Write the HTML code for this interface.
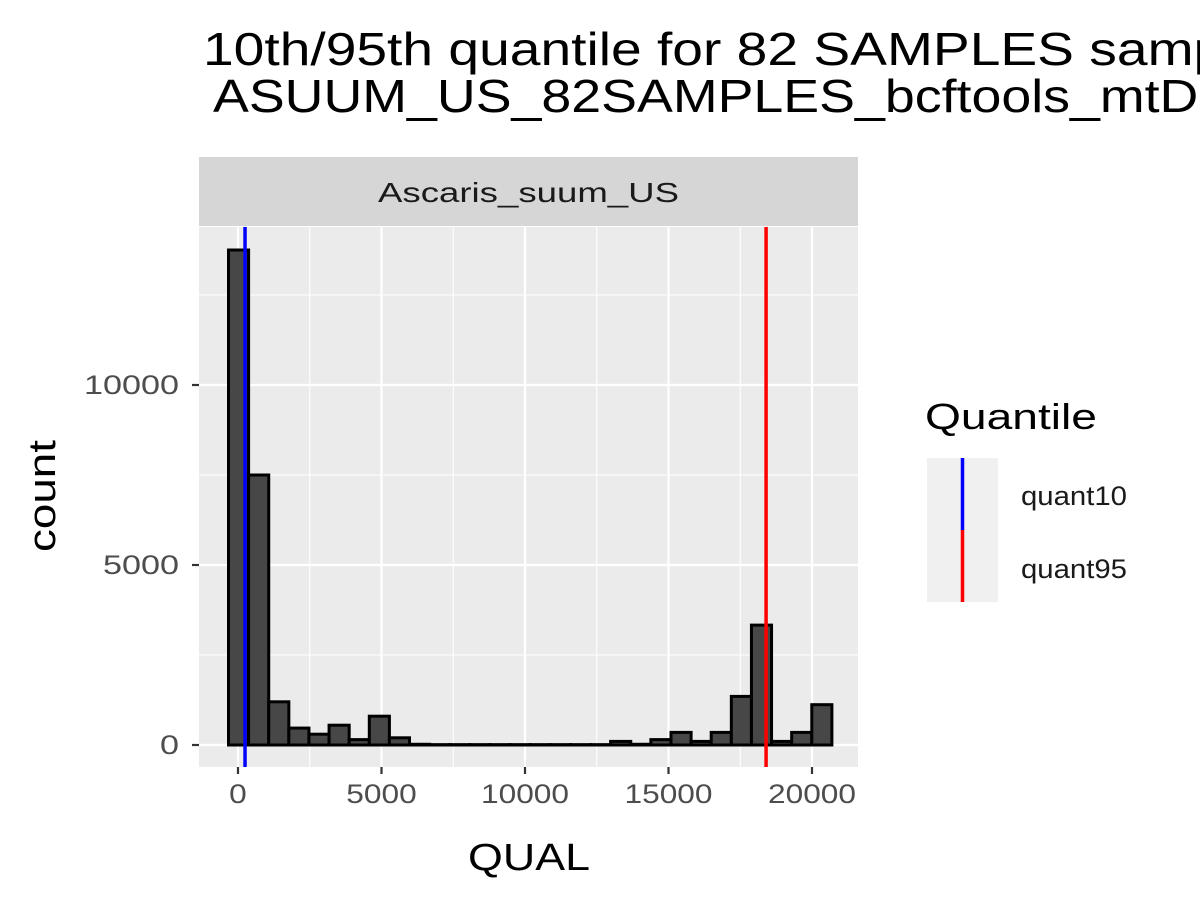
<!DOCTYPE html>
<html><head><meta charset="utf-8"><style>
html,body{margin:0;padding:0;background:#fff;overflow:hidden}
svg{font-family:"Liberation Sans",Arial,sans-serif;display:block}
</style></head><body>
<svg id="chart" width="1200" height="900" viewBox="0 0 1200 900">
<text x="203" y="65" font-size="46" fill="#000" textLength="1150" lengthAdjust="spacingAndGlyphs">10th/95th quantile for 82 SAMPLES samples in</text>
<text x="213" y="112" font-size="46" fill="#000" textLength="1060" lengthAdjust="spacingAndGlyphs">ASUUM_US_82SAMPLES_bcftools_mtDNA</text>
<rect x="199" y="157" width="659" height="69" fill="#d6d6d6"/>
<text x="378" y="202" font-size="28" fill="#1a1a1a" textLength="301" lengthAdjust="spacingAndGlyphs">Ascaris_suum_US</text>
<rect x="199" y="227" width="659" height="540" fill="#ebebeb"/>
<g id="grid"></g>
<g id="bars"></g>
<g id="vlines"></g>
<g id="axes"></g>
<text x="468" y="870" font-size="38" fill="#000" textLength="122" lengthAdjust="spacingAndGlyphs">QUAL</text>
<text transform="translate(55,552) rotate(-90)" font-size="38" fill="#000" textLength="112" lengthAdjust="spacingAndGlyphs">count</text>
<g>
<text x="925" y="429" font-size="36" fill="#000" textLength="172" lengthAdjust="spacingAndGlyphs">Quantile</text>
<rect x="927" y="458" width="71" height="144" fill="#f0f0f0"/>
<line x1="962.5" y1="458" x2="962.5" y2="530" stroke="#0000ff" stroke-width="3.5"/>
<line x1="962.5" y1="530" x2="962.5" y2="602" stroke="#ff0000" stroke-width="3.5"/>
<text x="1021" y="505" font-size="27" fill="#1a1a1a" textLength="106" lengthAdjust="spacingAndGlyphs">quant10</text>
<text x="1021" y="578" font-size="27" fill="#1a1a1a" textLength="106" lengthAdjust="spacingAndGlyphs">quant95</text>
</g>
</svg>
<script>
const binStart = -331;
const binWidth = 700.8;
const counts = [13750,7500,1200,470,300,550,150,800,200,20,10,10,10,10,10,10,10,10,10,100,20,150,350,100,350,1350,3330,100,350,1120];
const quantileNames = ['quant10','quant95'];
const quantileValues = [245,18400];
const quantileColors = ['#0000ff','#ff0000'];
const xTicks = [0,5000,10000,15000,20000];
const xTickLabels = ['0','5000','10000','15000','20000'];
const xMinor = [2500,7500,12500,17500];
const yTicks = [0,5000,10000];
const yTickLabels = ['0','5000','10000'];
const yMinor = [2500,7500,12500];

const NS='http://www.w3.org/2000/svg';
const X = v => 238 + v*(143.5/5000);
const Y = v => 745 - v*(36/1000);
function mk(tag, attrs, parent){const e=document.createElementNS(NS,tag);for(const k in attrs)e.setAttribute(k,attrs[k]);parent.appendChild(e);return e;}
const grid=document.getElementById('grid'),bars=document.getElementById('bars'),vl=document.getElementById('vlines'),ax=document.getElementById('axes');
xMinor.forEach(v=>{const l=mk('line',{x1:X(v),x2:X(v),y1:227,y2:767,stroke:'#fff','stroke-width':1.1},grid);

});
yMinor.forEach(v=>{const l=mk('line',{x1:199,x2:858,y1:Y(v),y2:Y(v),stroke:'#fff','stroke-width':1.1},grid);

});
xTicks.forEach((v,i)=>{const l=mk('line',{x1:X(v),x2:X(v),y1:227,y2:767,stroke:'#fff','stroke-width':2.2},grid);


const t=mk('line',{x1:X(v),x2:X(v),y1:767,y2:774,stroke:'#333','stroke-width':2.2},ax);


const w=xTickLabels[i].length*17.6;
const tx=mk('text',{x:X(v)-w/2,y:803,'font-size':27,fill:'#4d4d4d',textLength:w,lengthAdjust:'spacingAndGlyphs'},ax);tx.textContent=xTickLabels[i];

});
yTicks.forEach((v,i)=>{const l=mk('line',{x1:199,x2:858,y1:Y(v),y2:Y(v),stroke:'#fff','stroke-width':2.2},grid);


const t=mk('line',{x1:192,x2:199,y1:Y(v),y2:Y(v),stroke:'#333','stroke-width':2.2},ax);


const w=yTickLabels[i].length*19;
const tx=mk('text',{x:179-w,y:Y(v)+9,'font-size':27,fill:'#4d4d4d',textLength:w,lengthAdjust:'spacingAndGlyphs'},ax);tx.textContent=yTickLabels[i];

});
counts.forEach((c,i)=>{const x0=X(binStart+i*binWidth),x1=X(binStart+(i+1)*binWidth);
const r=mk('rect',{x:x0,y:Y(c),width:x1-x0,height:Y(0)-Y(c),fill:'#474747',stroke:'#000','stroke-width':3},bars);

});
quantileValues.forEach((v,i)=>{const l=mk('line',{x1:X(v),x2:X(v),y1:227,y2:767,stroke:quantileColors[i],'stroke-width':3.5},vl);

});
</script>
</body></html>
